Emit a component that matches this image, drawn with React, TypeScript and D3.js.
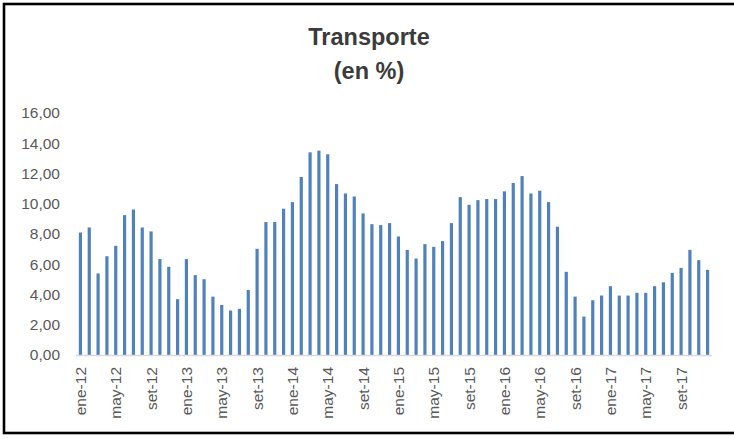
import React from "react";
import * as d3 from "d3";

const monthNames = ["ene", "feb", "mar", "abr", "may", "jun", "jul", "ago", "set", "oct", "nov", "dic"];
const years = ["12", "13", "14", "15", "16", "17"];
const categories: string[] = years.flatMap((y) => monthNames.map((m) => `${m}-${y}`));

const values: number[] = [
  8.10, 8.43, 5.39, 6.53, 7.22, 9.25, 9.62, 8.43, 8.17, 6.34, 5.83, 3.69,
  6.34, 5.28, 5.01, 3.86, 3.31, 2.94, 3.05, 4.30, 7.02, 8.79, 8.79, 9.67,
  10.11, 11.77, 13.40, 13.51, 13.27, 11.30, 10.68, 10.48, 9.36, 8.65, 8.59, 8.72,
  7.84, 6.95, 6.38, 7.33, 7.15, 7.53, 8.72, 10.44, 9.93, 10.24, 10.31, 10.31,
  10.82, 11.37, 11.83, 10.68, 10.86, 10.11, 8.48, 5.50, 3.86, 2.54, 3.62, 3.93,
  4.55, 3.93, 3.93, 4.11, 4.11, 4.55, 4.81, 5.43, 5.76, 6.95, 6.27, 5.63,
];

const yTicks: number[] = [0, 2, 4, 6, 8, 10, 12, 14, 16];
const xTickLabels: string[] = categories.filter((_, i) => i % 4 === 0);

const titleLines = ["Transporte", "(en %)"];

const W = 734;
const H = 439;

export default function App() {
  const x = d3
    .scaleBand<string>()
    .domain(categories)
    .range([76, 712])
    .paddingInner(0.64)
    .paddingOuter(0.32);
  const y = d3.scaleLinear().domain([0, 16]).range([355, 113]);
  const fmt = (v: number) => v.toFixed(2).replace(".", ",");
  const font = "'Liberation Sans', Arial, sans-serif";

  return (
    <svg
      width={W}
      height={H}
      style={{ position: "fixed", left: 0, top: 0, background: "#fff" }}
      fontFamily={font}
    >
      <rect x={0} y={0} width={W} height={H} fill="#fff" />
      <rect x={4} y={4} width={W + 10} height={429} fill="none" stroke="#000" strokeWidth={2.6} />
      <text x={369} y={45} textAnchor="middle" fontSize={23.5} fontWeight="bold" fill="#3b3b3b">
        {titleLines[0]}
      </text>
      <text x={369} y={79} textAnchor="middle" fontSize={23.5} fontWeight="bold" fill="#3b3b3b">
        {titleLines[1]}
      </text>
      {yTicks.map((t) => (
        <text key={t} x={60} y={y(t)} dy="0.35em" textAnchor="end" fontSize={15.5} fill="#595959">
          {fmt(t)}
        </text>
      ))}
      {categories.map((c, i) => (
        <rect
          key={c}
          x={x(c)!}
          y={y(values[i])}
          width={x.bandwidth()}
          height={y(0) - y(values[i])}
          fill="#4f81bd"
        />
      ))}
      <line x1={76} x2={712} y1={y(0) + 0.5} y2={y(0) + 0.5} stroke="#d9d9d9" strokeWidth={1.5} />
      {xTickLabels.map((c) => {
        const cx = x(c)! + x.bandwidth() / 2;
        return (
          <text
            key={c}
            transform={`translate(${cx},${367}) rotate(-90)`}
            dy="0.35em"
            textAnchor="end"
            fontSize={15.5}
            fill="#595959"
          >
            {c}
          </text>
        );
      })}
    </svg>
  );
}
